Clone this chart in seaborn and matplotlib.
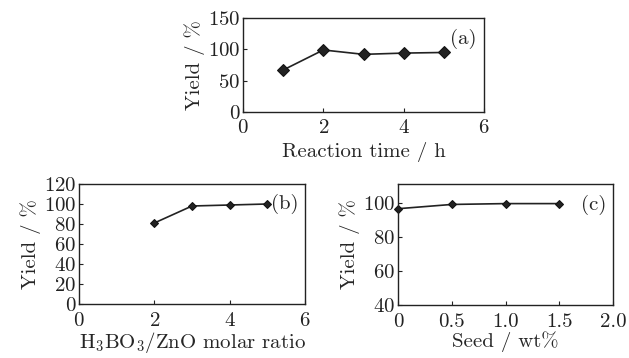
import numpy as np
import matplotlib.pyplot as plt
import pandas as pd
import seaborn as sns

# data
time_h = [1, 2, 3, 4, 5]
yield_time = [67, 99, 92, 94, 95]

ratio = [2, 3, 4, 5]
yield_ratio = [81, 98, 99, 100]

seed = [0, 0.5, 1.0, 1.5]
yield_seed = [96.5, 99, 99.5, 99.5]

sns.set_style('ticks')
plt.rcParams['font.family'] = ['cmr10', 'DejaVu Serif']
plt.rcParams['mathtext.fontset'] = 'cm'
plt.rcParams['axes.formatter.use_mathtext'] = True
plt.rcParams['xtick.direction'] = 'in'
plt.rcParams['ytick.direction'] = 'in'

W, H = 629, 358
fig = plt.figure(figsize=(W / 100, H / 100), dpi=100)


def px_axes(l, t, r, b):
    return fig.add_axes([l / W, 1 - b / H, (r - l) / W, (b - t) / H])


ax_a = px_axes(243, 18, 484, 112)
ax_b = px_axes(79, 184, 305, 304)
ax_c = px_axes(398, 184, 613, 305)

df_a = pd.DataFrame({'x': time_h, 'y': yield_time})
df_b = pd.DataFrame({'x': ratio, 'y': yield_ratio})
df_c = pd.DataFrame({'x': seed, 'y': yield_seed})

sns.lineplot(data=df_a, x='x', y='y', ax=ax_a, color='#222222', lw=1.2,
             marker='D', markersize=6, markeredgecolor='#111111')
sns.lineplot(data=df_b, x='x', y='y', ax=ax_b, color='#222222', lw=1.2,
             marker='D', markersize=4.5, markeredgecolor='#111111')
sns.lineplot(data=df_c, x='x', y='y', ax=ax_c, color='#222222', lw=1.2,
             marker='D', markersize=4.5, markeredgecolor='#111111', clip_on=False)

fs = 15
for ax in (ax_a, ax_b, ax_c):
    for s in ax.spines.values():
        s.set_linewidth(1.0)
        s.set_color('#222222')
    ax.tick_params(labelsize=fs, length=3, width=0.8, pad=2, colors='#222222')
    ax.set_ylabel('Yield / %', fontsize=fs, labelpad=2)

ax_a.tick_params(axis='x', pad=5)
ax_b.tick_params(axis='x', pad=6)
ax_c.tick_params(axis='x', pad=6)

ax_a.set_xlim(0, 6)
ax_a.set_ylim(0, 150)
ax_a.set_xticks([0, 2, 4, 6])
ax_a.set_yticks([0, 50, 100, 150])
ax_a.set_xlabel('Reaction time / h', fontsize=fs, labelpad=4)
ax_a.text(0.97, 0.78, '(a)', transform=ax_a.transAxes, ha='right', va='center', fontsize=fs)

ax_b.set_xlim(0, 6)
ax_b.set_ylim(0, 120)
ax_b.set_xticks([0, 2, 4, 6])
ax_b.set_yticks(np.arange(0, 121, 20))
ax_b.set_xlabel(r'$\mathrm{H_3BO_3/ZnO}$ molar ratio', fontsize=fs, labelpad=0)
ax_b.text(0.97, 0.83, '(b)', transform=ax_b.transAxes, ha='right', va='center', fontsize=fs)

ax_c.set_xlim(0, 2.0)
ax_c.set_ylim(40, 111)
ax_c.set_xticks([0, 0.5, 1.0, 1.5, 2.0])
ax_c.set_xticklabels(['0', '0.5', '1.0', '1.5', '2.0'])
ax_c.set_yticks([40, 60, 80, 100])
ax_c.set_xlabel('Seed / wt%', fontsize=fs, labelpad=0)
ax_c.text(0.97, 0.83, '(c)', transform=ax_c.transAxes, ha='right', va='center', fontsize=fs)

fig.savefig('out.png', dpi=100)
